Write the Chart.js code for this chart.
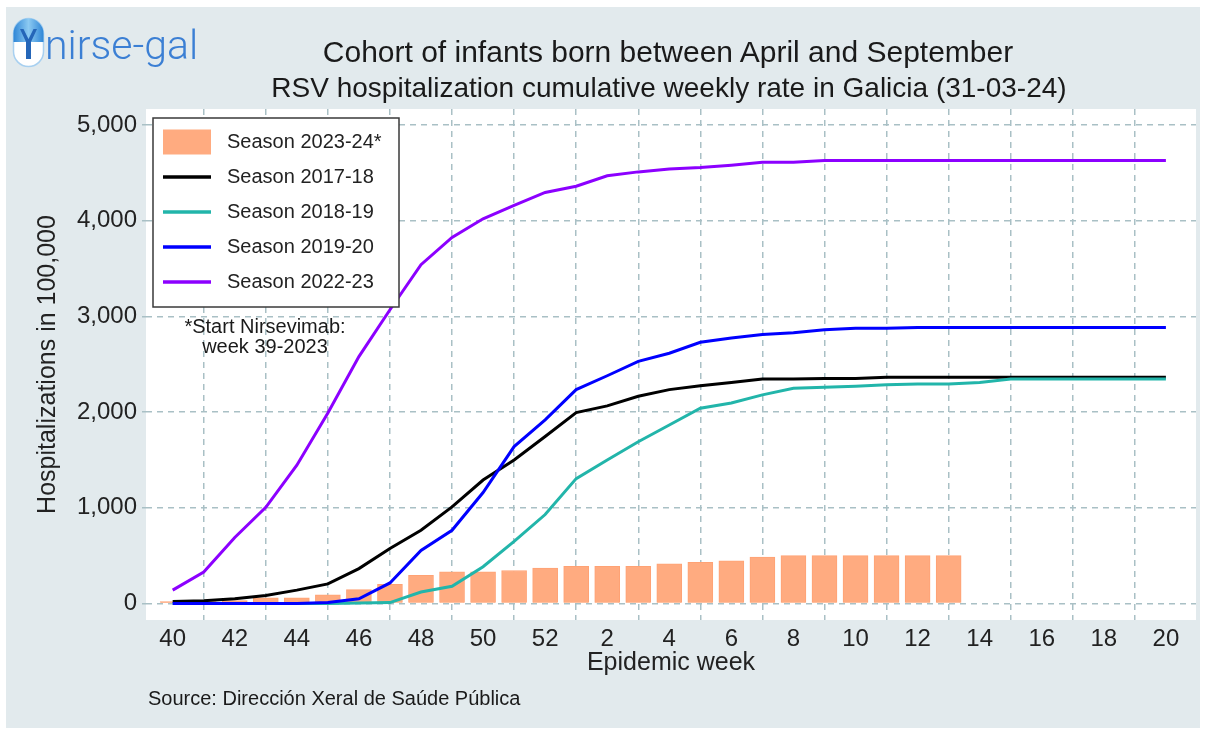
<!DOCTYPE html>
<html><head><meta charset="utf-8">
<script src="https://cdn.jsdelivr.net/npm/chart.js@4.4.1/dist/chart.umd.min.js"></script>
<style>
html,body{margin:0;padding:0;background:#fff;width:1208px;height:732px;overflow:hidden;font-family:"Liberation Sans",Arial,sans-serif;}
#panel{position:absolute;left:6px;top:7px;width:1194px;height:721px;background:#e2eaed;}
#wrap{position:absolute;left:0;top:0;width:1208px;height:732px;}
.t{position:absolute;white-space:nowrap;color:#1a1a1a;}
</style></head><body>
<div id="panel"></div>
<div id="wrap"><canvas id="c"></canvas></div>
<svg style="position:absolute;left:12px;top:17px" width="33" height="51" viewBox="0 0 33 51">
  <defs><linearGradient id="g1" x1="0" y1="0" x2="1" y2="0">
    <stop offset="0" stop-color="#2f86d6"/><stop offset="0.5" stop-color="#8ccaf2"/><stop offset="1" stop-color="#2f86d6"/></linearGradient></defs>
  <rect x="1.5" y="1.5" width="30" height="48" rx="15" fill="#fff" stroke="#a8d0f0" stroke-width="1.5"/>
  <path d="M1.5 25 V16.5 A15 15 0 0 1 31.5 16.5 V25 Z" fill="url(#g1)"/>
  <path d="M8 12 L14 25 V42 H19 V25 L25 12 L21.5 12 L16.5 22 L11.5 12 Z" fill="#2566b8"/>
</svg>
<div class="t" style="left:45px;top:25px;font-family:Roboto,'Liberation Sans',sans-serif;font-weight:300;font-size:41px;line-height:40px;color:#3b7fd4;">nirse-gal</div>
<div class="t" style="left:668px;top:37px;font-size:30px;line-height:30px;transform:translateX(-50%)">Cohort of infants born between April and September</div>
<div class="t" style="left:669px;top:74px;font-size:28px;line-height:28px;transform:translateX(-50%)">RSV hospitalization cumulative weekly rate in Galicia (31-03-24)</div>
<div class="t" style="left:265px;top:316px;font-size:20px;line-height:20px;transform:translateX(-50%);text-align:center;z-index:2">*Start Nirsevimab:<br>week 39-2023</div>
<div class="t" style="left:148px;top:688px;font-size:20px;line-height:20px;">Source: Dirección Xeral de Saúde Pública</div>
<script>
// Epidemic weeks (x categories)
const weeks = ['40','41','42','43','44','45','46','47','48','49','50','51','52','1','2','3','4','5','6','7','8','9','10','11','12','13','14','15','16','17','18','19','20'];
const xTickWeeks = ['40','42','44','46','48','50','52','2','4','6','8','10','12','14','16','18','20'];
const yTicks = [0,1000,2000,3000,4000,5000];

// Season 2023-24* (bars, weeks 40..13)
const season2324 = [20,20,30,60,60,90,145,200,295,330,330,345,370,388,388,388,415,430,445,485,500,500,500,500,500,500];
// Season 2017-18
const season1718 = [20,30,50,85,140,205,365,575,765,1010,1290,1500,1745,1995,2065,2165,2235,2275,2310,2345,2345,2350,2350,2365,2365,2365,2365,2365,2365,2365,2365,2365,2365];
// Season 2018-19
const season1819 = [0,0,0,0,0,0,5,10,120,180,385,650,930,1305,1500,1690,1865,2040,2095,2180,2250,2260,2270,2285,2295,2295,2310,2345,2345,2345,2345,2345,2345];
// Season 2019-20
const season1920 = [0,0,0,0,0,10,50,215,555,765,1160,1640,1920,2235,2380,2530,2615,2730,2775,2810,2830,2860,2875,2875,2885,2885,2885,2885,2885,2885,2885,2885,2885];
// Season 2022-23
const season2223 = [140,330,690,1005,1445,1990,2580,3070,3540,3825,4020,4160,4295,4360,4470,4510,4540,4555,4580,4610,4610,4630,4630,4630,4630,4630,4630,4630,4630,4630,4630,4630,4630];

const FONT = '"Liberation Sans", Arial, sans-serif';
const toXY = arr => arr.map((v,i)=>({x:i,y:v}));

const plotBg = {
  id:'plotBg',
  beforeDraw(chart){
    const {ctx, chartArea:a} = chart;
    ctx.save(); ctx.fillStyle='#fff';
    ctx.fillRect(a.left, a.top, a.right-a.left, a.bottom-a.top);
    ctx.restore();
  }
};
const legendBox = {
  id:'legendBox',
  afterDatasetsDraw(chart){
    const ctx = chart.ctx;
    const x0=153, y0=118, w=246, h=189;
    ctx.save();
    ctx.fillStyle='#fff'; ctx.fillRect(x0,y0,w,h);
    ctx.strokeStyle='#3a3a3a'; ctx.lineWidth=1.5; ctx.strokeRect(x0,y0,w,h);
    ctx.font='20px '+FONT; ctx.textBaseline='middle'; ctx.textAlign='left';
    chart.data.datasets.forEach((ds,i)=>{
      const cy = y0 + 24 + 35*i;
      if (ds.type==='line'){
        ctx.strokeStyle=ds.borderColor; ctx.lineWidth=3.5;
        ctx.beginPath(); ctx.moveTo(163,cy); ctx.lineTo(211,cy); ctx.stroke();
      } else {
        ctx.fillStyle=ds.backgroundColor; ctx.fillRect(163,cy-12.5,48,25);
      }
      ctx.fillStyle='#222'; ctx.fillText(ds.label, 227, cy);
    });
    ctx.restore();
  }
};

const gridColor = '#a9c0c5';
new Chart(document.getElementById('c'), {
  type:'bar',
  data:{
    datasets:[
      {type:'bar', label:'Season 2023-24*', data:toXY(season2324), backgroundColor:'#ffab80', borderColor:'#ffa274', borderWidth:1, barThickness:25, order:10},
      {type:'line', label:'Season 2017-18', data:toXY(season1718), borderColor:'#000000', borderWidth:3, pointRadius:0, tension:0, order:2},
      {type:'line', label:'Season 2018-19', data:toXY(season1819), borderColor:'#22b5aa', borderWidth:3, pointRadius:0, tension:0, order:1},
      {type:'line', label:'Season 2019-20', data:toXY(season1920), borderColor:'#0000ff', borderWidth:3, pointRadius:0, tension:0, order:0},
      {type:'line', label:'Season 2022-23', data:toXY(season2223), borderColor:'#8c00ff', borderWidth:3, pointRadius:0, tension:0, order:3}
    ]
  },
  options:{
    responsive:true, maintainAspectRatio:false, animation:false,
    layout:{padding:{top:109,right:12,left:0,bottom:0}},
    plugins:{legend:{display:false}, tooltip:{enabled:false}},
    scales:{
      x:{
        type:'linear', min:-0.86, max:32.97, offset:false,
        afterBuildTicks: ax => { ax.ticks = xTickWeeks.map(w=>({value:weeks.indexOf(w)})); },
        afterFit: ax => { ax.height = 112; },
        ticks:{ callback:(v)=>weeks[v], font:{size:24, family:FONT}, color:'#222', padding:5, maxRotation:0, autoSkip:false },
        grid:{ color:gridColor, lineWidth:1.5, drawTicks:false },
        border:{ display:false, dash:[6,5] },
        title:{ display:true, text:'Epidemic week', font:{size:25, family:FONT}, color:'#222', padding:{top:0,bottom:54} }
      },
      y:{
        min:-172, max:5167,
        afterBuildTicks: ax => { ax.ticks = yTicks.map(v=>({value:v})); },
        afterFit: ax => { ax.width = 146; },
        ticks:{ callback:(v)=>v.toLocaleString('en-US'), font:{size:24, family:FONT}, color:'#222', padding:5 },
        grid:{ color:gridColor, lineWidth:1.5, drawTicks:true, tickLength:4, tickBorderDash:[] },
        border:{ display:false, dash:[6,5] },
        title:{ display:true, text:'Hospitalizations in 100,000', font:{size:25, family:FONT}, color:'#222', padding:{top:33,bottom:0} }
      }
    }
  },
  plugins:[plotBg, legendBox]
});
</script>
</body></html>
